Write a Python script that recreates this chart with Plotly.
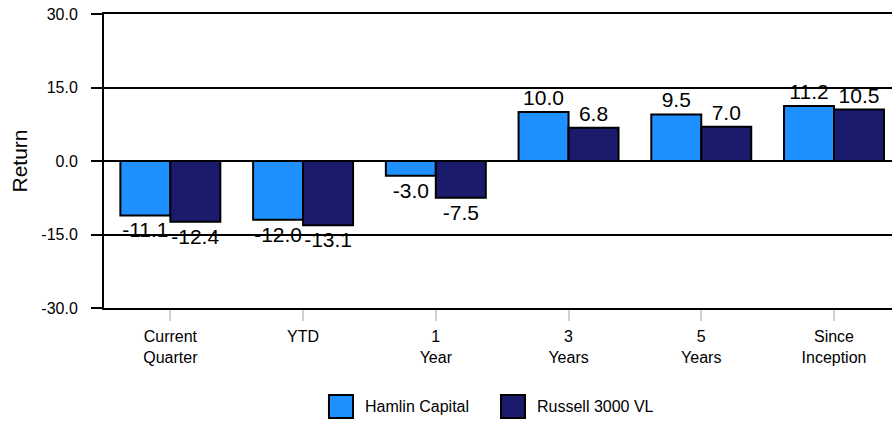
import plotly.graph_objects as go

categories = ["Current<br>Quarter", "YTD", "1<br>Year", "3<br>Years", "5<br>Years", "Since<br>Inception"]
series_names = ["Hamlin Capital", "Russell 3000 VL"]
hamlin = [-11.1, -12.0, -3.0, 10.0, 9.5, 11.2]
russell = [-12.4, -13.1, -7.5, 6.8, 7.0, 10.5]
y_ticks = [-30, -15, 0, 15, 30]
colors = ["#1E90FF", "#1B1B6E"]

FONT = "Liberation Sans, Arial, sans-serif"

fig = go.Figure()
for name, vals, col in zip(series_names, [hamlin, russell], colors):
    fig.add_trace(go.Bar(
        x=categories, y=vals, name=name,
        marker=dict(color=col, line=dict(color="black", width=2)),
        text=[f"{v:.1f}" for v in vals], textposition="outside",
        textfont=dict(size=21, color="black", family=FONT),
        cliponaxis=False, constraintext="none", showlegend=False,
    ))

# legend drawn manually (large square swatches)
leg = [(0.2855, 0.316, 0.3287), (0.5038, 0.5343, 0.547)]
shapes = []
annotations = []
for (x0, x1, xt), name, col in zip(leg, series_names, colors):
    shapes.append(dict(type="rect", xref="paper", yref="paper", x0=x0, x1=x1,
                       y0=-0.374, y1=-0.296, fillcolor=col,
                       line=dict(color="black", width=2)))
    annotations.append(dict(text=name, xref="paper", yref="paper", x=xt, y=-0.335,
                            xanchor="left", yanchor="middle", showarrow=False,
                            font=dict(size=16, color="black", family=FONT)))

fig.update_layout(
    width=892, height=421,
    margin=dict(l=104, r=0, t=14, b=113),
    plot_bgcolor="white", paper_bgcolor="white",
    barmode="group", bargap=0.247, bargroupgap=0,
    font=dict(family=FONT, color="black"),
    shapes=shapes, annotations=annotations,
    xaxis=dict(
        range=[-0.5, 5.437], showgrid=False,
        showline=True, linecolor="black", linewidth=2, mirror=True,
        ticks="outside", ticklen=11, tickwidth=2, tickcolor="#d0d0d0",
        tickfont=dict(size=16, color="black", family=FONT),
        ticklabelstandoff=2,
    ),
    yaxis=dict(
        range=[-30, 30], tickvals=y_ticks, ticktext=[f"{v:.1f}" for v in y_ticks],
        showgrid=True, gridcolor="black", gridwidth=2,
        zeroline=True, zerolinecolor="black", zerolinewidth=2,
        showline=True, linecolor="black", linewidth=2,
        ticks="outside", ticklen=11, tickwidth=2, tickcolor="black",
        tickfont=dict(size=16, color="black", family=FONT),
        ticklabelstandoff=10,
        title=dict(text="Return", font=dict(size=21, color="black", family=FONT), standoff=8),
    ),
)

fig.write_html("out.html", config={"displayModeBar": False},
               post_script="document.body.style.margin='0';")
